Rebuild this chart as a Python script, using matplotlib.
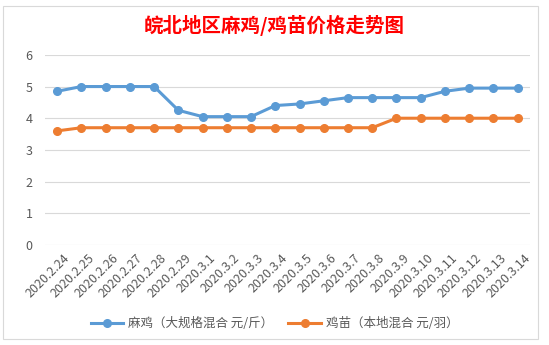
import matplotlib.pyplot as plt
import matplotlib.transforms as mtransforms
from matplotlib.patches import Rectangle

plt.rcParams['font.family'] = ['Noto Sans CJK SC', 'DejaVu Sans']

dates = ['2020.2.24', '2020.2.25', '2020.2.26', '2020.2.27', '2020.2.28', '2020.2.29',
         '2020.3.1', '2020.3.2', '2020.3.3', '2020.3.4', '2020.3.5', '2020.3.6',
         '2020.3.7', '2020.3.8', '2020.3.9', '2020.3.10', '2020.3.11', '2020.3.12',
         '2020.3.13', '2020.3.14']
maji = [4.85, 5.0, 5.0, 5.0, 5.0, 4.25, 4.05, 4.05, 4.05, 4.4, 4.45, 4.55,
        4.65, 4.65, 4.65, 4.65, 4.85, 4.95, 4.95, 4.95]
jimiao = [3.6, 3.7, 3.7, 3.7, 3.7, 3.7, 3.7, 3.7, 3.7, 3.7, 3.7, 3.7,
          3.7, 3.7, 4.0, 4.0, 4.0, 4.0, 4.0, 4.0]

label_maji = '麻鸡（大规格混合 元/斤）'
label_jimiao = '鸡苗（本地混合 元/羽）'
title = '皖北地区麻鸡/鸡苗价格走势图'

fig = plt.figure(figsize=(5.49, 3.45), dpi=100)
ax = fig.add_axes([0.082, 0.29, 0.883, 0.551])

x = list(range(len(dates)))
ax.plot(x, maji, color='#5B9BD5', lw=2.2, marker='o', ms=5.5, label=label_maji)
ax.plot(x, jimiao, color='#ED7D31', lw=2.2, marker='o', ms=5.5, label=label_jimiao)

ax.set_xlim(-0.5, len(dates) - 0.5)
ax.set_ylim(0, 6)
ax.set_yticks(range(0, 7))
ax.grid(axis='y', color='#D9D9D9', lw=0.8)
ax.set_axisbelow(True)
for s in ax.spines.values():
    s.set_visible(False)
ax.tick_params(axis='both', length=0, colors='#595959', labelsize=9)
ax.tick_params(axis='y', pad=9)
ax.set_xticks(x)
ax.set_xticklabels(dates, rotation=45, ha='right', va='top', rotation_mode='anchor')
offset = mtransforms.ScaledTranslation(6 / 100, -2 / 100, fig.dpi_scale_trans)
for lab in ax.get_xticklabels():
    lab.set_transform(lab.get_transform() + offset)

fig.text(0.5, 0.925, title, color='#FF0000', fontsize=14, fontweight='bold',
         ha='center', va='center')

fig.legend(loc='center', bbox_to_anchor=(0.5, 0.062), ncol=2, frameon=False,
           fontsize=9, labelcolor='#595959', handlelength=2.6, columnspacing=1.2,
           handletextpad=0.4)

fig.patches.append(Rectangle((3 / 549, 6 / 345), 535 / 549, 333 / 345,
                             transform=fig.transFigure, fill=False,
                             ec='#D9D9D9', lw=0.8))

fig.savefig('out.png', dpi=100)
